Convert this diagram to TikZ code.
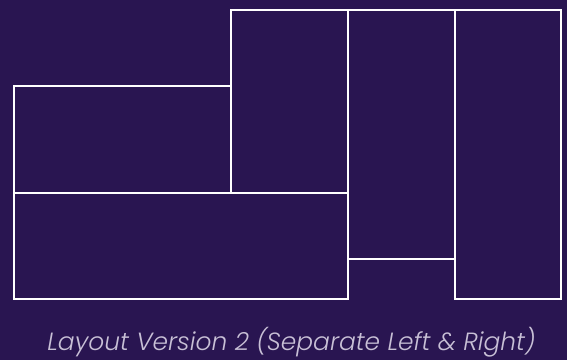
\documentclass[tikz,border=0pt]{standalone}
\usepackage{fontspec}
\newfontfamily\captionfont{Poppins Light Italic}
\definecolor{bgpurple}{RGB}{41,21,81}
\definecolor{captiongray}{RGB}{200,192,214}

\begin{document}
\begin{tikzpicture}[x=1bp, y=-1bp, transform shape,
	panel/.style={shape=rectangle, draw=white, line width=1.8bp, anchor=north west, inner sep=0pt}]
	% Background:
	\fill[bgpurple] (0, 0) rectangle (567, 360);
	\useasboundingbox (0, 0) rectangle (567, 360);
	% Panels:
	\node[panel, minimum width=217bp, minimum height=107bp] (upperLeft) at (13, 85){};
	\node[panel, minimum width=117bp, minimum height=183bp] (upperMid) at (230, 9){};
	\node[panel, minimum width=334bp, minimum height=106bp] (lowerLeft) at (13, 192){};
	\node[panel, minimum width=107bp, minimum height=249bp] (midRight) at (347, 9){};
	\node[panel, minimum width=106bp, minimum height=289bp] (farRight) at (454, 9){};
	% Caption:
	\node[anchor=center, text=captiongray, font=\captionfont\fontsize{25}{30}\selectfont, inner sep=0pt] (caption) at (291.5, 342){Layout Version 2 (Separate Left \& Right)};
\end{tikzpicture}
\end{document}
